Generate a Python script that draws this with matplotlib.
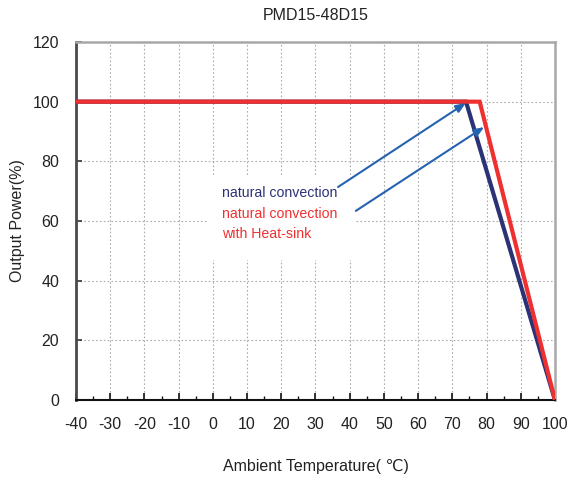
import matplotlib
matplotlib.use("Agg")
import matplotlib.pyplot as plt
from matplotlib.patches import Rectangle
from matplotlib.ticker import MultipleLocator

plt.rcParams['font.family'] = ['Liberation Sans', 'DejaVu Sans']
plt.rcParams['axes.unicode_minus'] = False

# Data
natural_x = [-40, 74, 100]
natural_y = [100, 100, 0]
heatsink_x = [-40, 78, 100]
heatsink_y = [100, 100, 0]
x_ticks = list(range(-40, 101, 10))
y_ticks = list(range(0, 121, 20))

title = "PMD15-48D15"
xlabel = "Ambient Temperature( \u2103)"
ylabel = "Output Power(%)"

navy = "#2b3275"
red = "#ee3130"
arrow_blue = "#2563b0"

fig = plt.figure(figsize=(5.68, 4.82), dpi=100)
ax = fig.add_axes([0.1338, 0.170, 0.977 - 0.1338, 0.9129 - 0.170])

ax.set_xlim(-40, 100)
ax.set_ylim(0, 120)
ax.set_xticks(x_ticks)
ax.set_yticks(y_ticks)
ax.xaxis.set_minor_locator(MultipleLocator(5))

ax.grid(True, which='major', color='#ababab', linestyle=(0, (1.5, 2)), linewidth=0.8, zorder=0)
ax.set_axisbelow(True)

# white box behind labels
ax.add_patch(Rectangle((-1.7, 46.9), 43.3, 27.9, facecolor='white', edgecolor='none', zorder=1))

ax.plot(natural_x, natural_y, color=navy, linewidth=3.0, zorder=3, solid_joinstyle='miter')
ax.plot(heatsink_x, heatsink_y, color=red, linewidth=3.0, zorder=4, solid_joinstyle='miter')

ax.annotate("", xy=(74.0, 99.6), xytext=(36.6, 71.4),
            arrowprops=dict(arrowstyle='-|>,head_length=0.5,head_width=0.2', color=arrow_blue, lw=1.5,
                            mutation_scale=12, shrinkA=0, shrinkB=0), zorder=5)
ax.annotate("", xy=(79.3, 91.5), xytext=(41.8, 63.4),
            arrowprops=dict(arrowstyle='-|>,head_length=0.5,head_width=0.2', color=arrow_blue, lw=1.5,
                            mutation_scale=12, shrinkA=0, shrinkB=0), zorder=5)

ax.text(2.7, 69.4, "natural convection", color=navy, fontsize=10.2, va='center', ha='left', zorder=6)
ax.text(2.7, 62.3, "natural convection", color=red, fontsize=10.2, va='center', ha='left', zorder=6)
ax.text(2.7, 55.6, "with Heat-sink", color=red, fontsize=10.2, va='center', ha='left', zorder=6)

for side, col, lw in [('left', '#4a4a4a', 2.0), ('top', '#a8a8a8', 1.8),
                      ('right', '#a8a8a8', 1.8), ('bottom', '#111111', 1.5)]:
    ax.spines[side].set_color(col)
    ax.spines[side].set_linewidth(lw)

ax.tick_params(axis='x', which='major', direction='in', length=5, width=1.2, color='#111111',
               labelsize=11.5, pad=12, top=False)
ax.tick_params(axis='x', which='minor', direction='in', length=3, width=1.0, color='#111111', top=False)
ax.tick_params(axis='y', which='major', direction='in', length=4, width=1.2, color='#333333',
               labelsize=11.5, pad=12, right=False)
for lab in ax.get_xticklabels() + ax.get_yticklabels():
    lab.set_color('#222222')

fig.text(0.5 * (0.1338 + 0.977), 1 - 15 / 482, title, ha='center', va='center', fontsize=11.5, color='#222222')
fig.text(0.5 * (0.1338 + 0.977), 1 - 467 / 482, xlabel, ha='center', va='center', fontsize=11.5, color='#222222')
fig.text(18 / 568, 1 - 221 / 482, ylabel, ha='center', va='center', rotation=90, fontsize=11.5, color='#222222')

fig.savefig("out.png", dpi=100)
